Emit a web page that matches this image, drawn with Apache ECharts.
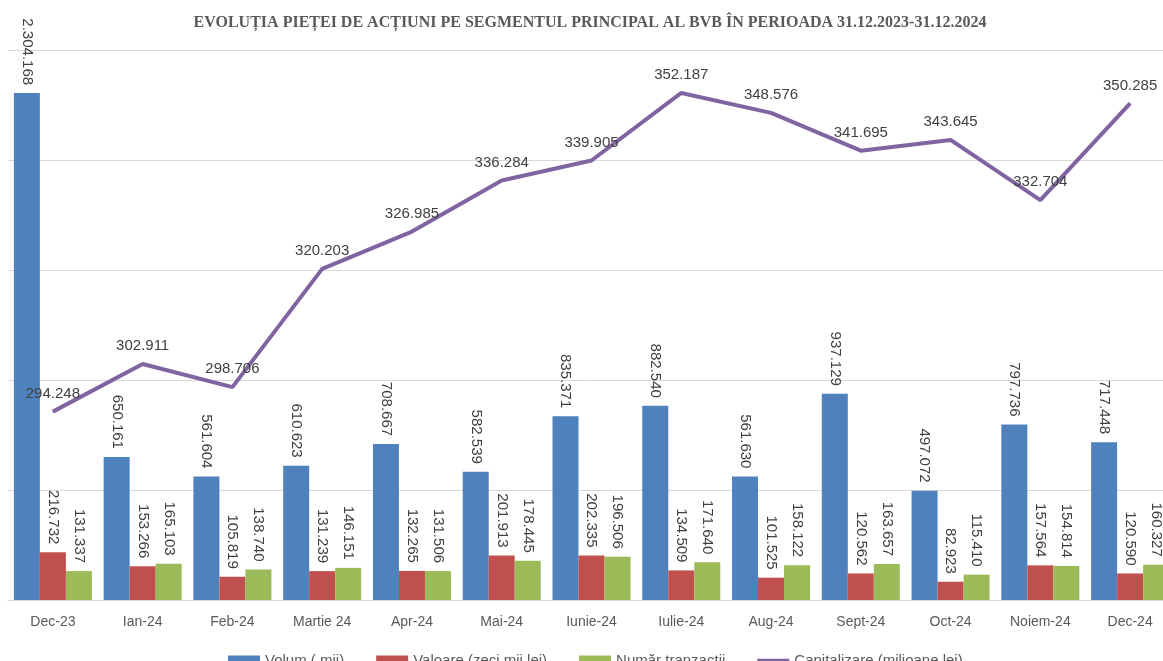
<!DOCTYPE html>
<html>
<head>
<meta charset="utf-8">
<script src="https://cdn.jsdelivr.net/npm/echarts@6/dist/echarts.min.js"></script>
<style>
  html, body { margin: 0; padding: 0; background: #fff; overflow: hidden; }
  /* the original picture is cropped on the right, so the chart is a bit wider than the window */
  #chart { width: 1175px; height: 661px; }
</style>
</head>
<body>
<div id="chart"></div>
<script>
// luni
const luni = ['Dec-23', 'Ian-24', 'Feb-24', 'Martie 24', 'Apr-24', 'Mai-24', 'Iunie-24',
  'Iulie-24', 'Aug-24', 'Sept-24', 'Oct-24', 'Noiem-24', 'Dec-24']

const volum = [2304168, 650161, 561604, 610623, 708667, 582539, 835371, 882540, 561630, 937129, 497072, 797736, 717448]
const valoare = [216732, 153266, 105819, 131239, 132265, 201913, 202335, 134509, 101525, 120562, 82923, 157564, 120590]
const numarTranzactii = [131337, 165103, 138740, 146151, 131506, 178445, 196506, 171640, 158122, 163657, 115410, 154814, 160327]
const capitalizare = [294248, 302911, 298706, 320203, 326985, 336284, 339905, 352187, 348576, 341695, 343645, 332704, 350285]

const numeSerii = ['Volum ( mii)', 'Valoare (zeci mii lei)', 'Număr tranzactii', 'Capitalizare (milioane lei)']

// 2304168 -> 2.304.168
function fmt (v) {
  return String(v).replace(/\B(?=(\d{3})+(?!\d))/g, '.')
}

const font = 'Liberation Sans, Arial, sans-serif'

function barSerie (name, data, color) {
  return {
    type: 'bar',
    name: name,
    data: data,
    barWidth: 26,
    barGap: '0%',
    itemStyle: { color: color },
    label: {
      show: true,
      position: 'top',
      distance: 8,
      rotate: -90,
      align: 'right',
      verticalAlign: 'middle',
      color: '#404040',
      fontSize: 15,
      fontFamily: font,
      formatter: p => fmt(p.value)
    }
  }
}

const chart = echarts.init(document.getElementById('chart'))
const option = {
  animation: false,
  title: {
    text: 'EVOLUȚIA PIEȚEI DE ACȚIUNI PE SEGMENTUL PRINCIPAL AL BVB ÎN PERIOADA 31.12.2023-31.12.2024',
    left: 585,
    top: 10,
    textAlign: 'center',
    textStyle: {
      fontFamily: 'Liberation Serif, Times New Roman, serif',
      fontWeight: 'bold',
      fontSize: 16,
      color: '#595959'
    }
  },
  grid: {
    left: 8,
    width: 1167,
    top: 50,
    bottom: 61
  },
  legend: {
    left: 223,
    top: 648,
    itemWidth: 32,
    itemHeight: 10,
    itemGap: 32,
    textStyle: { fontSize: 15, color: '#595959', fontFamily: font },
    data: [
      { name: numeSerii[0], icon: 'rect' },
      { name: numeSerii[1], icon: 'rect' },
      { name: numeSerii[2], icon: 'rect' },
      { name: numeSerii[3], icon: 'path://M0,0h36v4h-36z' }
    ]
  },
  xAxis: {
    type: 'category',
    data: luni,
    axisTick: { show: false },
    axisLine: { lineStyle: { color: '#d9d9d9', width: 1 } },
    axisLabel: { color: '#595959', fontSize: 14, fontFamily: font, margin: 15 }
  },
  yAxis: [{
    type: 'value',
    min: 0,
    max: 2500000,
    interval: 500000,
    axisLabel: { show: false },
    axisLine: { show: false },
    axisTick: { show: false },
    splitLine: { lineStyle: { color: '#d9d9d9', width: 1 } }
  }, {
    type: 'value',
    min: 260000,
    max: 360000,
    interval: 20000,
    show: false,
    splitLine: { show: false }
  }],
  series: [
    barSerie(numeSerii[0], volum, '#4F81BD'),
    barSerie(numeSerii[1], valoare, '#C0504D'),
    barSerie(numeSerii[2], numarTranzactii, '#9BBB59'),
    {
      type: 'line',
      name: numeSerii[3],
      yAxisIndex: 1,
      data: capitalizare,
      symbol: 'circle',
      symbolSize: 1,
      itemStyle: { color: '#8064A2' },
      lineStyle: { color: '#8064A2', width: 4 },
      label: {
        show: true,
        position: 'top',
        distance: 10,
        color: '#404040',
        fontSize: 15,
        fontFamily: font,
        formatter: p => fmt(p.value)
      }
    }
  ]
}
chart.setOption(option)
</script>
</body>
</html>
